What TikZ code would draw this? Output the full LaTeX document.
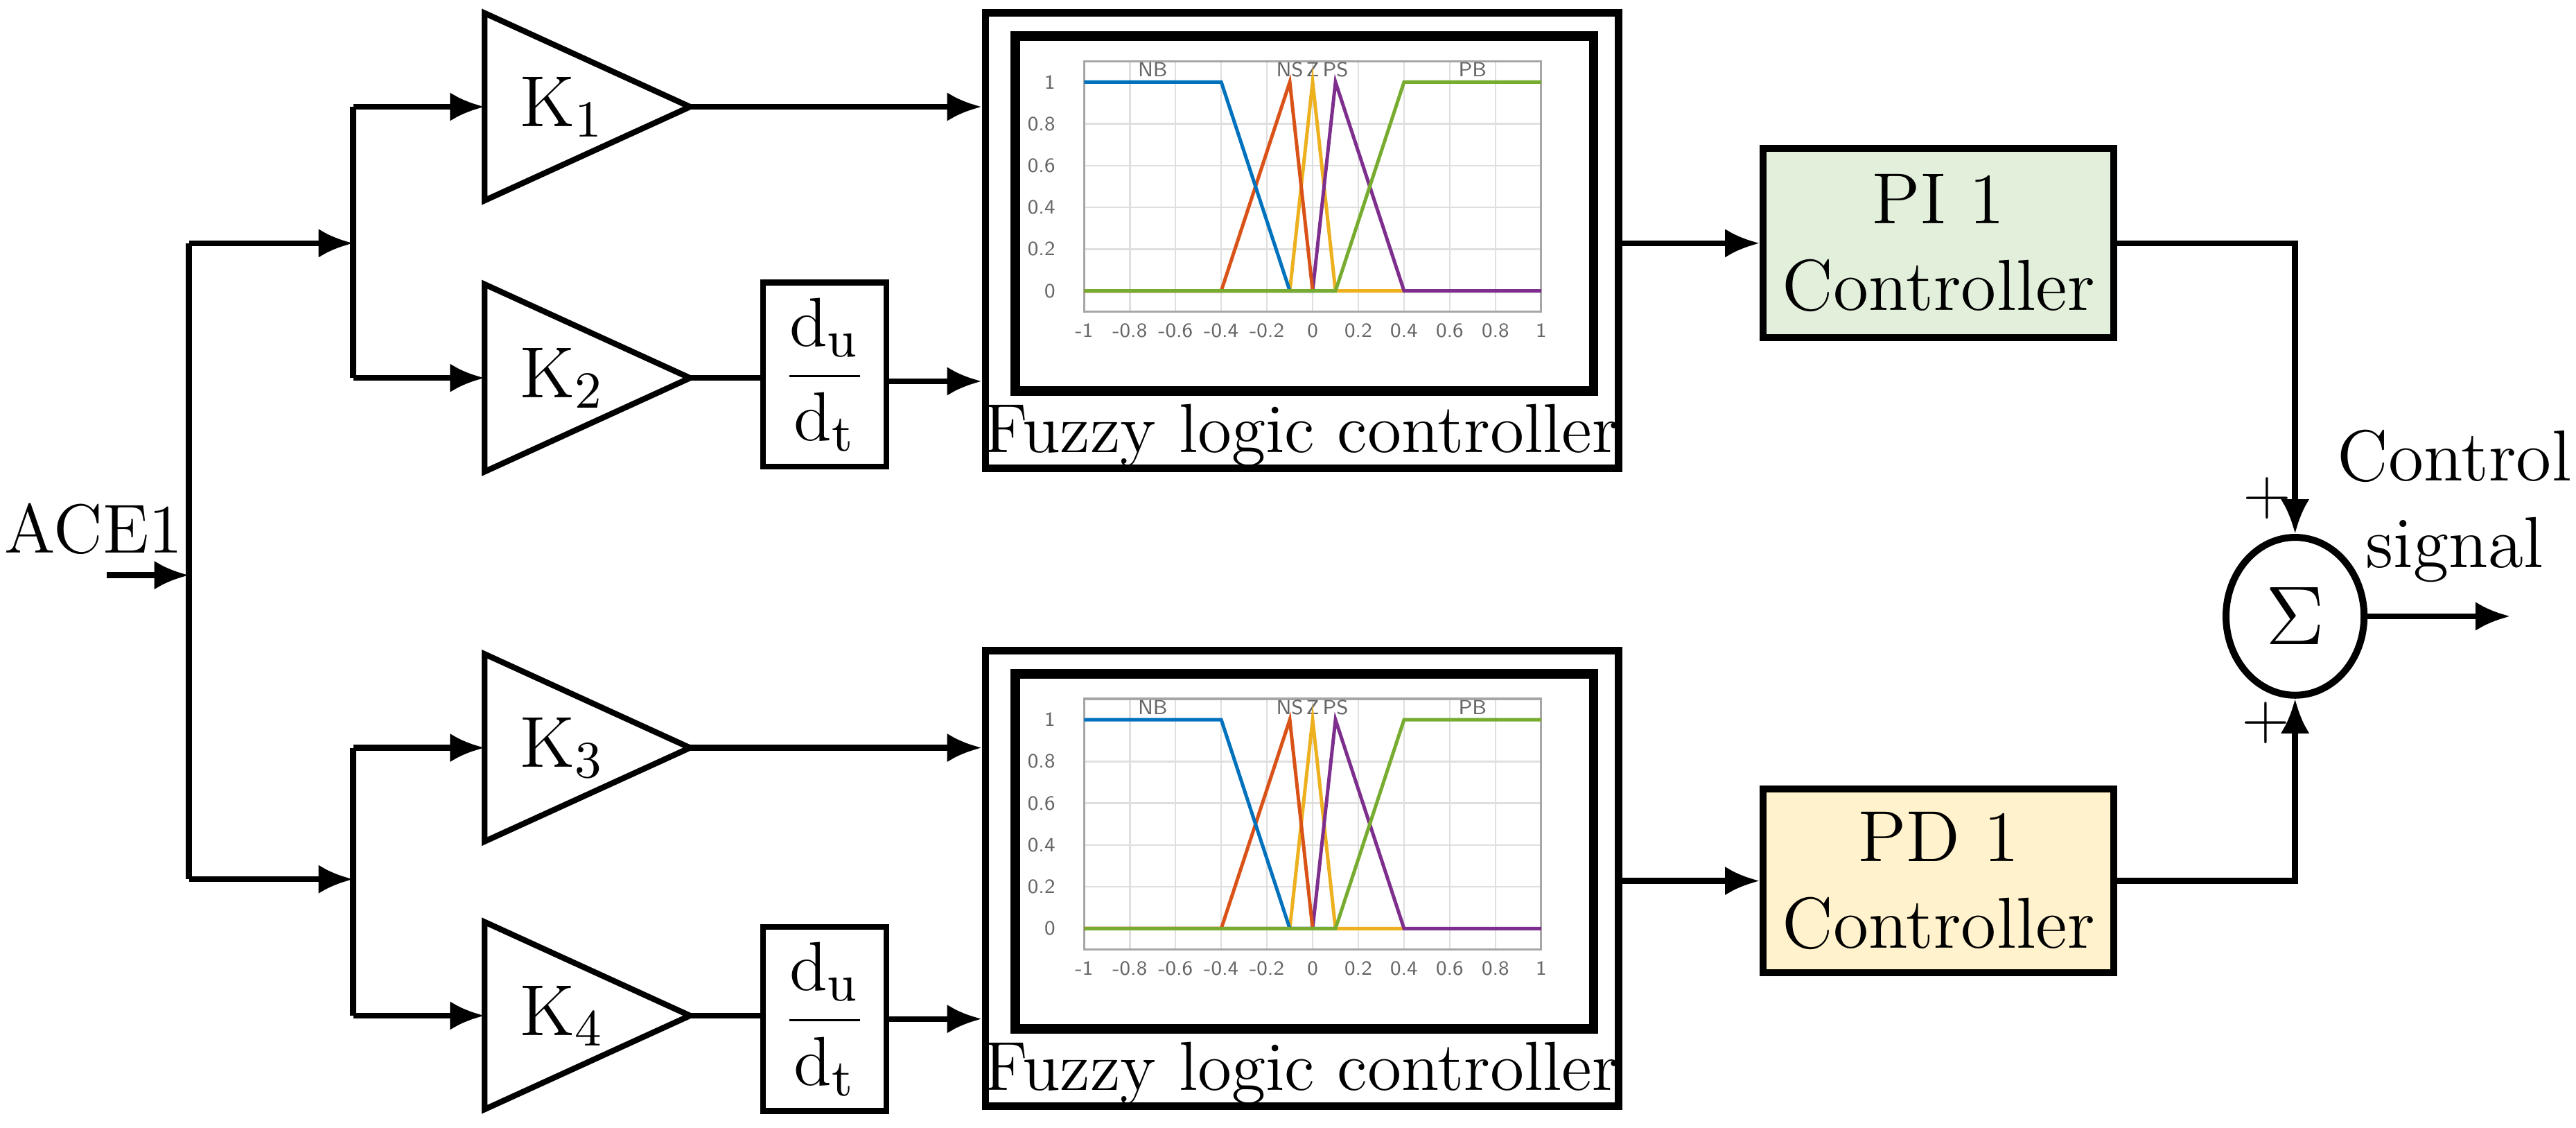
\documentclass[tikz,border=0pt]{standalone}
\usetikzlibrary{arrows.meta,shapes.geometric}
\definecolor{mfb}{RGB}{0,114,189}
\definecolor{mfo}{RGB}{217,83,25}
\definecolor{mfy}{RGB}{237,177,32}
\definecolor{mfp}{RGB}{126,47,142}
\definecolor{mfg}{RGB}{119,172,48}
\definecolor{pig}{RGB}{226,239,218}
\definecolor{pdy}{RGB}{255,242,204}
\newcommand{\myfuzzy}[2]{%
\begin{scope}[shift={(#1,#2)},x=1.39cm,y=1.27cm]
 \foreach \v in {-0.8,-0.6,...,0.9} \draw[gray!25,line width=0.3pt] (\v,-0.1)--(\v,1.1);
 \foreach \v in {0.2,0.4,...,0.9} \draw[gray!25,line width=0.3pt] (-1,\v)--(1,\v);
 \draw[gray!70,line width=0.4pt] (-1,-0.1) rectangle (1,1.1);
 \foreach \v/\l in {-1/-1,-0.8/-0.8,-0.6/-0.6,-0.4/-0.4,-0.2/-0.2,0/0,0.2/0.2,0.4/0.4,0.6/0.6,0.8/0.8,1/1}
   \node[font=\fontsize{3.5}{4}\sffamily,text=gray!80!black] at (\v,-0.19) {\l};
 \foreach \v/\l in {0/0,0.2/0.2,0.4/0.4,0.6/0.6,0.8/0.8,1/1}
   \node[font=\fontsize{3.5}{4}\sffamily,text=gray!80!black,anchor=east] at (-1.03,\v) {\l};
 \foreach \x/\l in {-0.7/NB,-0.1/NS,0/Z,0.1/PS,0.7/PB}
   \node[font=\fontsize{3.5}{4}\sffamily,text=gray!80!black] at (\x,1.06) {\l};
 \begin{scope}[line width=0.6pt]
 \draw[mfy] (-1,0)--(-0.1,0)--(0,1)--(0.1,0)--(0.4,0);
 \draw[mfp] (-1,0)--(0,0)--(0.1,1)--(0.4,0)--(1,0);
 \draw[mfo] (-1,0)--(-0.4,0)--(-0.1,1)--(0,0);
 \draw[mfb] (-1,1)--(-0.4,1)--(-0.1,0)--(0.1,0);
 \draw[mfg] (-1,0)--(0.1,0)--(0.4,1)--(1,1);
 \end{scope}
\end{scope}}
\begin{document}
\begin{tikzpicture}[x=0.01cm,y=-0.01cm,
  line width=1pt,
  arr/.style={-{Latex[length=6pt,width=5pt]}},
  txt/.style={font=\fontsize{12.5}{15}\selectfont},
  box/.style={draw,line width=1.3pt},
  tri/.style={draw,line width=1pt}]
\useasboundingbox (0,0) rectangle (1568,686);
% input
\node[font=\fontsize{12}{14}\selectfont] (ace) at (57,322) {ACE1};
\coordinate (inp) at (65,350);
\coordinate (tr) at (115,350);
\coordinate (trt) at (115,148);
\coordinate (trb) at (115,535);
\coordinate (st) at (215,148);
\coordinate (sb) at (215,535);
\draw[arr] (inp) -- (tr);
\draw (trt) -- (trb);
\draw[arr] (trt) -- (st);
\draw[arr] (trb) -- (sb);
% triangles
\foreach \n/\y/\k in {k1/65/1,k2/230/2,k3/455/3,k4/618/4}{
  \draw[tri] (295,\y-57) -- (420,\y) -- (295,\y+57) -- cycle;
  \coordinate (\n in) at (295,\y);
  \coordinate (\n out) at (420,\y);
  \node[txt,anchor=west] (\n) at (303,\y) {K$_{\k}$};
}
\draw (215,65) -- (215,230);
\draw (215,455) -- (215,618);
\coordinate (sp1) at (215,65); \coordinate (sp2) at (215,230);
\coordinate (sp3) at (215,455); \coordinate (sp4) at (215,618);
\draw[arr] (sp1) -- (k1in); \draw[arr] (sp2) -- (k2in);
\draw[arr] (sp3) -- (k3in); \draw[arr] (sp4) -- (k4in);
% du/dt
\node[box,line width=1pt,minimum width=0.75cm,minimum height=1.12cm,inner sep=0pt,txt] (d1) at (502,228) {$\displaystyle\frac{\mathrm{d}_{\mathrm{u}}}{\mathrm{d}_{\mathrm{t}}}$};
\node[box,line width=1pt,minimum width=0.75cm,minimum height=1.12cm,inner sep=0pt,txt] (d2) at (502,620) {$\displaystyle\frac{\mathrm{d}_{\mathrm{u}}}{\mathrm{d}_{\mathrm{t}}}$};
% fuzzy boxes
\node[box,minimum width=3.85cm,minimum height=2.77cm,inner sep=0pt] (f1) at (792.5,146.5) {};
\node[box,minimum width=3.85cm,minimum height=2.77cm,inner sep=0pt] (f2) at (792.5,534.5) {};
\draw[line width=1.6pt] (618,22) rectangle (970,238);
\draw[line width=1.6pt] (618,410) rectangle (970,626);
\myfuzzy{799}{177}
\myfuzzy{799}{565}
\node[font=\fontsize{12}{14}\selectfont] (fl1) at (792,265) {Fuzzy logic controller};
\node[font=\fontsize{12}{14}\selectfont] (fl2) at (792,653) {Fuzzy logic controller};
\draw[arr] (k1out) -- (f1.west |- k1out);
\draw[arr] (k3out) -- (f2.west |- k3out);
\draw (k2out) -- (d1.west |- k2out);
\draw (k4out) -- (d2.west |- k4out);
\draw[arr] (d1.east |- 0,232) -- (f1.west |- 0,232);
\draw[arr] (d2.east |- 0,620) -- (f2.west |- 0,620);
% PI / PD
\node[box,line width=1.2pt,fill=pig,minimum width=1.8cm,minimum height=1.15cm,align=center,txt] (pi) at (1180,148) {PI 1\\Controller};
\node[box,line width=1.2pt,fill=pdy,minimum width=1.8cm,minimum height=1.12cm,align=center,txt] (pd) at (1180,536) {PD 1\\Controller};
\draw[arr] (f1.east |- pi) -- (pi.west);
\draw[arr] (f2.east |- pd) -- (pd.west);
% sum
\node[draw,ellipse,line width=1.2pt,minimum width=0.84cm,minimum height=0.96cm,inner sep=0pt,font=\fontsize{14}{16}\selectfont] (sum) at (1397,375) {$\Sigma$};
\draw[arr] (pi.east) -| (sum.north);
\draw[arr] (pd.east) -| (sum.south);
\coordinate (out) at (1528,375);
\draw[arr] (sum.east) -- (out);
\node[font=\fontsize{11}{11}\selectfont] (p1) at (1380,303) {+};
\node[font=\fontsize{11}{11}\selectfont] (p2) at (1379,440) {+};
\node[txt,align=center] (cs) at (1494,308) {Control\\signal};
\end{tikzpicture}
\end{document}
